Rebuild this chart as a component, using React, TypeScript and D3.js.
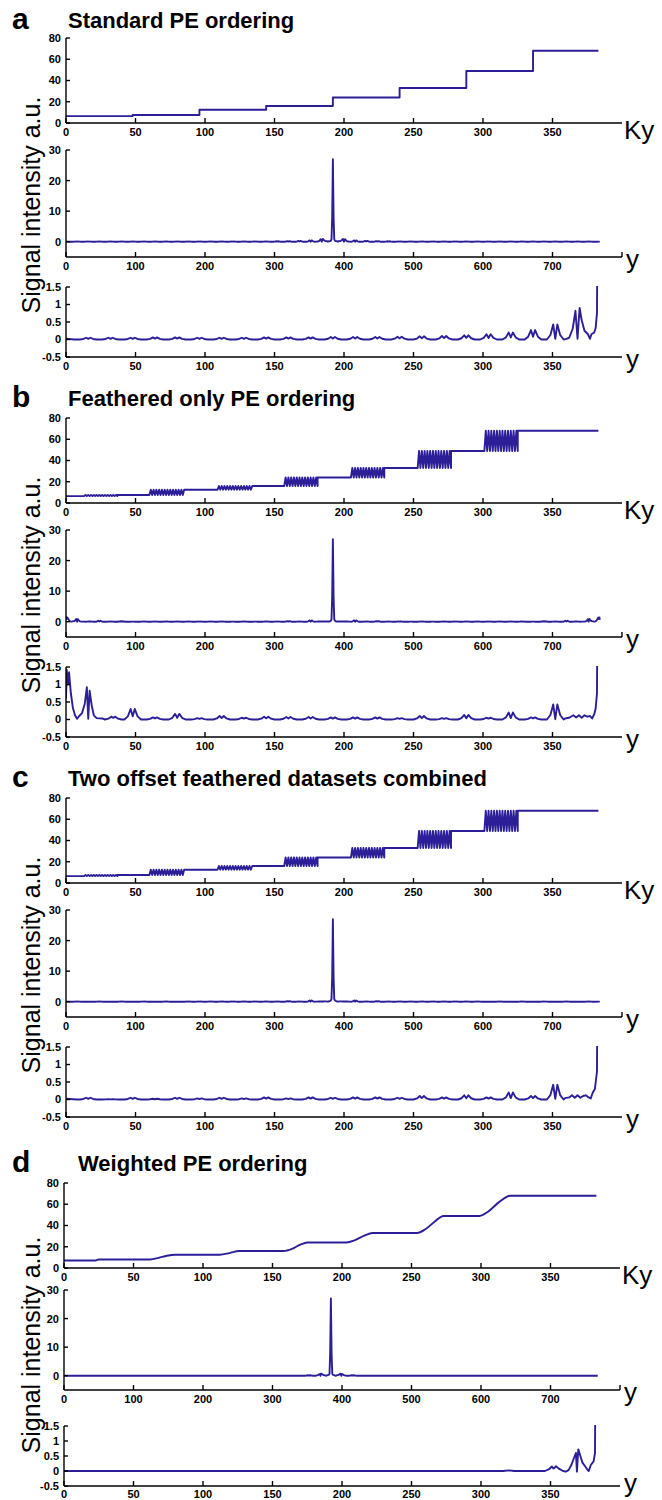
import React from 'react';
import * as d3 from 'd3';

type Pt = [number, number];

const LINE_COLOR = '#2b1e97';
const FONT = '"Liberation Sans", Arial, Helvetica, sans-serif';

// ---------- text ----------
const panelLetters = ['a', 'b', 'c', 'd'];
const panelTitles = [
  'Standard PE ordering',
  'Feathered only PE ordering',
  'Two offset feathered datasets combined',
  'Weighted PE ordering',
];
const yAxisTitle = 'Signal intensity a.u.';

// ---------- ticks ----------
const kyTicks = [0, 50, 100, 150, 200, 250, 300, 350];
const fullTicks = [0, 100, 200, 300, 400, 500, 600, 700];
const stepYTicks = [0, 20, 40, 60, 80];
const psfYTicks = [0, 10, 20, 30];
const zoomYTicks = [-0.5, 0, 0.5, 1, 1.5];

// ---------- k-space ordering (top rows) ----------
const kyLast = 383;
const stdStepStarts = [0, 48, 96, 144, 192, 240, 288, 336];
const stdStepLevels = [6.5, 7.5, 12.5, 16, 24, 33, 49, 68];

const featherSegStarts = [0, 13, 37, 60, 85, 109, 134, 157, 181, 205, 229, 253, 277, 301, 325];
const featherSegLow = [6.5, 6.5, 7.5, 7.5, 12.5, 12.5, 16, 16, 24, 24, 33, 33, 49, 49, 68];
const featherSegHigh = [6.5, 7.5, 7.5, 12.5, 12.5, 16, 16, 24, 24, 33, 33, 49, 49, 68, 68];

const weightedKy = [0, 22, 25, 62, 68, 74, 80, 112, 119, 126, 158, 164, 170, 175, 203, 209, 216, 222, 254, 260, 267, 273, 299, 305, 313, 321, 383];
const weightedLevel = [7, 7, 8, 8, 9.5, 11.5, 12.5, 12.5, 14, 16, 16, 18, 22, 24, 24, 26, 30.5, 33, 33, 36.5, 44, 49, 49, 53, 62, 68, 68];

// ---------- point spread functions ----------
const centerPeak = 27;
const centerShoulder = 8;

const aStart: Pt[] = [[0, 0.02], [6, 0]];
const aBumpCenters = [16, 32, 48, 64, 80, 96, 112, 128, 144, 160, 176, 192, 208, 224, 240, 256, 272, 288, 304, 320, 336, 352];
const aBumpHeights = [0.05, 0.05, 0.05, 0.06, 0.06, 0.05, 0.05, 0.05, 0.06, 0.06, 0.06, 0.07, 0.07, 0.07, 0.08, 0.09, 0.1, 0.12, 0.15, 0.2, 0.27, 0.43];
const aBumpNotch = [0.4, 0.4, 0.4, 0.4, 0.4, 0.4, 0.4, 0.4, 0.4, 0.4, 0.4, 0.4, 0.4, 0.4, 0.4, 0.4, 0.4, 0.4, 0.3, 0.3, 0.3, 0.05];
const aEnd: Pt[] = [[360, 0.02], [362, 0.05], [364.5, 0.3], [366.5, 0.82], [368, 0.02], [369.5, 0.9], [371, 0.55], [373, 0.25], [375.5, 0.15], [377, 0.02], [378, 0.15], [380, 0.2], [381, 0.32], [382, 0.75]];

const bStart: Pt[] = [[0, 0.6], [0.5, 1.42], [1.4, 1.0], [2.2, 1.35], [3.5, 0.75], [5, 0.32], [6.5, 0.12], [8, 0.02], [9.5, 0.1], [11.5, 0.18], [13.5, 0.45], [15, 0.92], [16, 0.02], [17, 0.82], [18.5, 0.4], [20, 0.12], [22, 0.04], [26, 0.03]];
const bBumpCenters = [34, 48, 64, 80, 96, 112, 128, 144, 160, 176, 192, 208, 224, 240, 256, 272, 288, 304, 320, 336, 352];
const bBumpHeights = [0.08, 0.3, 0.06, 0.16, 0.04, 0.1, 0.05, 0.08, 0.07, 0.07, 0.06, 0.06, 0.06, 0.04, 0.1, 0.04, 0.13, 0.05, 0.2, 0.06, 0.43];
const bBumpNotch = [0.6, 0.3, 0.5, 0.3, 0.5, 0.4, 0.5, 0.4, 0.4, 0.4, 0.4, 0.4, 0.4, 0.5, 0.4, 0.5, 0.3, 0.5, 0.2, 0.5, 0.02];
const bEnd: Pt[] = [[359, 0.03], [362, 0.05], [365, 0.12], [367, 0.06], [369, 0.12], [371, 0.05], [373, 0.12], [375, 0.08], [377, 0.1], [378.5, 0.03], [380, 0.15], [381, 0.3], [382, 0.75]];

const cStart: Pt[] = [[0, 0.02], [8, 0]];
const cBumpCenters = [16, 32, 48, 64, 80, 96, 112, 128, 144, 160, 176, 192, 208, 224, 240, 256, 272, 288, 304, 320, 336, 352];
const cBumpHeights = [0.05, 0.01, 0.05, 0.02, 0.05, 0.03, 0.05, 0.03, 0.06, 0.03, 0.06, 0.05, 0.06, 0.06, 0.05, 0.1, 0.06, 0.12, 0.06, 0.2, 0.1, 0.42];
const cBumpNotch = [0.4, 0.4, 0.4, 0.4, 0.4, 0.4, 0.4, 0.4, 0.4, 0.4, 0.4, 0.4, 0.4, 0.4, 0.4, 0.4, 0.4, 0.3, 0.4, 0.2, 0.4, 0.05];
const cEnd: Pt[] = [[359, 0.04], [362, 0.06], [364, 0.12], [366, 0.05], [368, 0.12], [370, 0.05], [372, 0.1], [374, 0.12], [376, 0.06], [377.5, 0.03], [379, 0.2], [380.5, 0.3], [382, 0.8]];

const dStart: Pt[] = [[0, 0], [316, 0], [320, 0.02], [324, 0], [346, 0], [349, 0.06], [351, 0.15], [352.2, 0.08], [354, 0.16], [356, 0.08], [359, 0.0], [361, -0.02], [363, 0.03], [365, 0.2], [367, 0.45], [368.3, 0.6], [369, -0.02], [370, 0.72], [371.5, 0.5], [373, 0.28], [375, 0.15], [376.5, 0.05], [377.5, 0.0], [379, 0.2], [381, 0.32], [382, 0.6]];
const dBumpCenters: number[] = [];
const dBumpHeights: number[] = [];
const dBumpNotch: number[] = [];
const dEnd: Pt[] = [];

// bump shape template (offset in samples, fraction of height; -1 marks the notch)
const bumpDx = [-6, -3.5, -1.5, 0, 1.5, 3.5, 6];
const bumpFrac = [0, 0.3, 1, -1, 1, 0.3, 0];

// ---------- layout ----------
const X_LEN = 556;
const panelX0 = [66, 66, 66, 64];
const letterBaseline = [29, 407, 787, 1172];
const titleX = [68, 68, 68, 78];
const sub1 = [[38, 123], [418, 503], [798, 883], [1183, 1268]];
const sub2 = [[150, 257], [530, 637], [910, 1017], [1290, 1390]];
const sub3 = [[287, 357], [667, 737], [1047, 1117], [1426, 1486]];
const yTitleCenter = [205, 585, 965, 1345];

// ---------- builders ----------
function stepSeries(starts: number[], levels: number[]): Pt[] {
  const pts: Pt[] = [];
  starts.forEach((s, i) => {
    const e = i + 1 < starts.length ? starts[i + 1] : kyLast;
    pts.push([s, levels[i]], [e, levels[i]]);
  });
  return pts;
}

function featherSeries(starts: number[], low: number[], high: number[]): Pt[] {
  const pts: Pt[] = [];
  starts.forEach((s, i) => {
    const e = i + 1 < starts.length ? starts[i + 1] : kyLast;
    if (low[i] === high[i]) {
      pts.push([s, low[i]], [e, low[i]]);
    } else {
      for (let k = s; k <= e; k++) pts.push([k, (k - s) % 2 === 0 ? low[i] : high[i]]);
    }
  });
  return pts;
}

function halfProfile(start: Pt[], centers: number[], heights: number[], notch: number[], end: Pt[]): Pt[] {
  const pts: Pt[] = [...start];
  centers.forEach((c, i) => {
    bumpDx.forEach((dx, j) => {
      const f = bumpFrac[j];
      pts.push([c + dx, f < 0 ? heights[i] * notch[i] : heights[i] * f]);
    });
  });
  pts.push(...end);
  pts.sort((p, q) => p[0] - q[0]);
  pts.push([383, centerShoulder]);
  return pts;
}

function fullProfile(half: Pt[]): Pt[] {
  const mirrored: Pt[] = half.slice().reverse().map(([x, y]) => [768 - x, y] as Pt);
  return [...half, [384, centerPeak], ...mirrored];
}

const halves: Pt[][] = [
  halfProfile(aStart, aBumpCenters, aBumpHeights, aBumpNotch, aEnd),
  halfProfile(bStart, bBumpCenters, bBumpHeights, bBumpNotch, bEnd),
  halfProfile(cStart, cBumpCenters, cBumpHeights, cBumpNotch, cEnd),
  halfProfile(dStart, dBumpCenters, dBumpHeights, dBumpNotch, dEnd),
];

const orderings: Pt[][] = [
  stepSeries(stdStepStarts, stdStepLevels),
  featherSeries(featherSegStarts, featherSegLow, featherSegHigh),
  featherSeries(featherSegStarts, featherSegLow, featherSegHigh),
  weightedKy.map((k, i) => [k, weightedLevel[i]] as Pt),
];

// ---------- components ----------
interface SubProps {
  id: string;
  x0: number;
  top: number;
  bottom: number;
  xMax: number;
  xTicks: number[];
  yDomain: [number, number];
  yTicks: number[];
  data: Pt[];
  curve: d3.CurveFactory;
  axisLabel: string;
  endTick?: boolean;
  labelGap?: number;
  axisLabelDy?: number;
}

function Subplot(p: SubProps) {
  const x = d3.scaleLinear().domain([0, p.xMax]).range([p.x0, p.x0 + X_LEN]);
  const y = d3.scaleLinear().domain(p.yDomain).range([p.bottom, p.top]);
  const line = d3.line<Pt>().x((d) => x(d[0])).y((d) => y(d[1])).curve(p.curve);
  const xEnd = p.x0 + X_LEN;
  const gap = p.labelGap ?? 13;
  const labelDy = p.axisLabelDy ?? (p.axisLabel === 'Ky' ? 16 : 11);
  return (
    <g>
      <defs>
        <clipPath id={p.id}>
          <rect x={p.x0} y={p.top - 1} width={X_LEN} height={p.bottom - p.top + 1} />
        </clipPath>
      </defs>
      <path
        d={line(p.data) || ''}
        fill="none"
        stroke={LINE_COLOR}
        strokeWidth={1.9}
        strokeLinejoin="round"
        clipPath={`url(#${p.id})`}
      />
      <line x1={p.x0} x2={p.x0} y1={p.top} y2={p.bottom} stroke="#000" strokeWidth={1.4} />
      <line x1={p.x0} x2={xEnd} y1={p.bottom} y2={p.bottom} stroke="#000" strokeWidth={1.4} />
      {p.endTick && <line x1={xEnd} x2={xEnd} y1={p.bottom} y2={p.bottom - 5} stroke="#000" strokeWidth={1.4} />}
      {p.yTicks.map((t) => (
        <g key={'y' + t}>
          <line x1={p.x0} x2={p.x0 + 4} y1={y(t)} y2={y(t)} stroke="#000" strokeWidth={1.4} />
          <text x={p.x0 - 5} y={y(t)} dy="0.36em" textAnchor="end" fontSize={11} fontWeight="bold" fontFamily={FONT}>
            {String(t)}
          </text>
        </g>
      ))}
      {p.xTicks.map((t) => (
        <g key={'x' + t}>
          <line x1={x(t)} x2={x(t)} y1={p.bottom} y2={p.bottom - 5} stroke="#000" strokeWidth={1.4} />
          <text x={x(t)} y={p.bottom + gap} textAnchor="middle" fontSize={11} fontWeight="bold" fontFamily={FONT}>
            {String(t)}
          </text>
        </g>
      ))}
      <text x={xEnd + (p.axisLabel === 'Ky' ? 2 : 4)} y={p.bottom + labelDy} fontSize={26} fontFamily={FONT}>
        {p.axisLabel}
      </text>
    </g>
  );
}

export default function App() {
  return (
    <svg width={662} height={1500} style={{ position: 'absolute', left: 0, top: 0 }} xmlns="http://www.w3.org/2000/svg">
      <rect x={0} y={0} width={662} height={1500} fill="#fff" />
      {panelLetters.map((letter, i) => {
        const x0 = panelX0[i];
        return (
          <g key={letter}>
            <text x={12} y={letterBaseline[i]} fontSize={30} fontWeight="bold" fontFamily={FONT}>
              {letter}
            </text>
            <text x={titleX[i]} y={letterBaseline[i] - 1} fontSize={22} fontWeight="bold" fontFamily={FONT}>
              {panelTitles[i]}
            </text>
            <text
              transform={`translate(40,${yTitleCenter[i]}) rotate(-90)`}
              textAnchor="middle"
              fontSize={25}
              fontFamily={FONT}
            >
              {yAxisTitle}
            </text>
            <Subplot
              id={`c1${letter}`}
              x0={x0}
              top={sub1[i][0]}
              bottom={sub1[i][1]}
              xMax={400}
              xTicks={kyTicks}
              yDomain={[0, 80]}
              yTicks={stepYTicks}
              data={orderings[i]}
              curve={i === 3 ? d3.curveMonotoneX : d3.curveLinear}
              axisLabel="Ky"
            />
            <Subplot
              id={`c2${letter}`}
              x0={x0}
              top={sub2[i][0]}
              bottom={sub2[i][1]}
              xMax={800}
              xTicks={fullTicks}
              yDomain={[-5, 30]}
              yTicks={psfYTicks}
              data={fullProfile(halves[i])}
              curve={d3.curveLinear}
              axisLabel="y"
              endTick
            />
            <Subplot
              id={`c3${letter}`}
              x0={x0}
              top={sub3[i][0]}
              bottom={sub3[i][1]}
              xMax={400}
              xTicks={kyTicks}
              yDomain={[-0.5, 1.5]}
              yTicks={zoomYTicks}
              data={halves[i]}
              curve={d3.curveLinear}
              axisLabel="y"
              labelGap={i === 3 ? 12 : 13}
              axisLabelDy={i === 3 ? 6 : 11}
            />
          </g>
        );
      })}
    </svg>
  );
}
